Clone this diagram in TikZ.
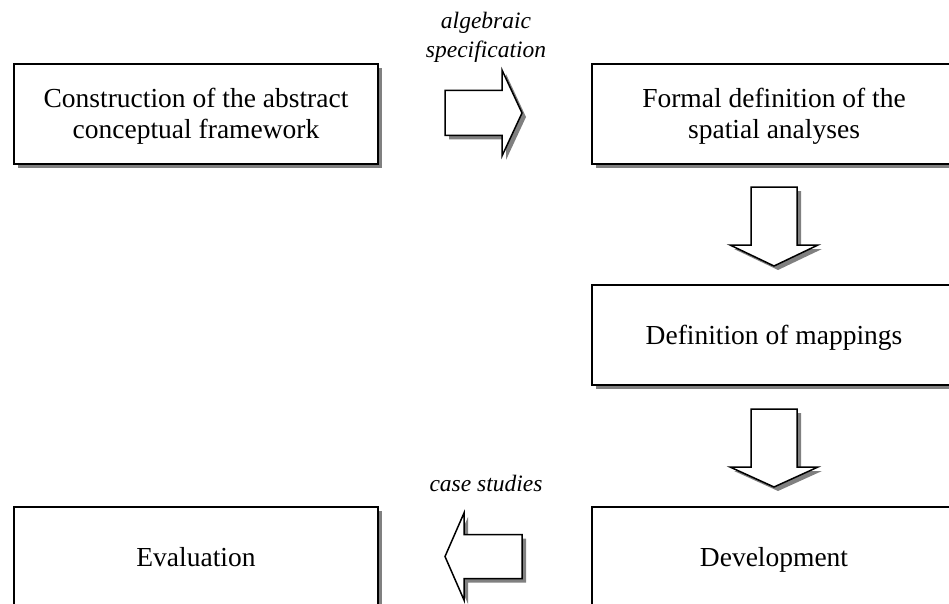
\documentclass[tikz,border=0pt]{standalone}
\usepackage{fontspec}
\setmainfont{Liberation Serif}
\usetikzlibrary{shadows}
\newcommand\lnstrut{\rule[-0.216em]{0pt}{1.107em}}
\tikzset{
  shd/.style={drop shadow={shadow xshift=4pt,shadow yshift=-4pt,fill=black!50,opacity=1}},
  stagebox/.style={shd,draw=black,line width=1.6pt,fill=white,rectangle,
    minimum width=364pt,minimum height=100pt,inner sep=0pt,align=center,
    font=\fontsize{27.5}{31}\selectfont},
  blockarrow/.style={shd,draw=black,line width=1.5pt,fill=white,line join=miter},
  arrowlabel/.style={font=\fontsize{23.5}{30}\selectfont\itshape,inner sep=0pt,anchor=base}
}
\begin{document}
\begin{tikzpicture}[x=1pt,y=-1pt]
\useasboundingbox (0,0) rectangle (949,604);
\begin{scope}
\clip (0,0) rectangle (949,604);
\node[stagebox] (conc) at (196,114) {\lnstrut Construction of the abstract\\\lnstrut conceptual framework};
\node[stagebox] (formal) at (774,114) {\lnstrut Formal definition of the\\\lnstrut spatial analyses};
\node[stagebox] (mapp) at (774,335) {\lnstrut Definition of mappings};
\node[stagebox] (dev) at (774,557) {\lnstrut Development};
\node[stagebox] (eval) at (196,557) {\lnstrut Evaluation};
% block arrows
\draw[blockarrow] (445,90.5)--(502,90.5)--(502,70)--(522,113)--(502,156)--(502,135.5)--(445,135.5)--cycle;
\draw[blockarrow] (751,187)--(797,187)--(797,245)--(818,245)--(774,266)--(730,245)--(751,245)--cycle;
\draw[blockarrow] (751,409)--(797,409)--(797,467)--(818,467)--(774,487)--(730,467)--(751,467)--cycle;
\draw[blockarrow] (522,534.5)--(464,534.5)--(464,513)--(445,556.5)--(464,600)--(464,578.5)--(522,578.5)--cycle;
% labels
\node[arrowlabel] (lab1) at (486,29) {algebraic};
\node[arrowlabel] (lab2) at (486,58) {specification};
\node[arrowlabel] (lab3) at (486,491) {case studies};
\end{scope}
\end{tikzpicture}
\end{document}
